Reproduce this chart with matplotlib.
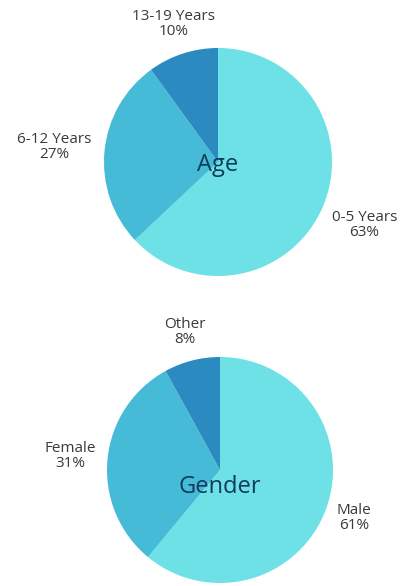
import numpy as np
import matplotlib.pyplot as plt

plt.rcParams['font.family'] = ['Open Sans', 'DejaVu Sans']

# Datos
age_labels = ['0-5 Years', '6-12 Years', '13-19 Years']
age_values = [63, 27, 10]
gender_labels = ['Male', 'Female', 'Other']
gender_values = [61, 31, 8]

colors = ['#6de1e6', '#46bbd7', '#2b8ac0']
label_color = '#3a3a3a'
title_color = '#0f3b58'

W, H = 413, 586
fig = plt.figure(figsize=(W / 100, H / 100), dpi=100)


def draw_pie(cx, cy, r, values, labels, title, dists, title_dy):
    # ejes en pixeles, centro arriba-abajo
    ax = fig.add_axes([(cx - r) / W, (H - cy - r) / H, 2 * r / W, 2 * r / H])
    wedges, _ = ax.pie(values, colors=colors, startangle=90, counterclock=False,
                       radius=1, wedgeprops=dict(linewidth=0))
    for w, lab, val, d in zip(wedges, labels, values, dists):
        ang = np.deg2rad((w.theta1 + w.theta2) / 2)
        ax.text(d * np.cos(ang), d * np.sin(ang), f'{lab}\n{val}%',
                ha='center', va='center', fontsize=11, color=label_color,
                linespacing=1.0)
    ax.text(0, title_dy, title, ha='center', va='center', fontsize=17,
            color=title_color)
    ax.set_xlim(-1, 1)
    ax.set_ylim(-1, 1)
    ax.axis('off')


draw_pie(218, 162, 114, age_values, age_labels, 'Age', [1.40, 1.44, 1.27], -0.03)
draw_pie(220, 470, 113, gender_values, gender_labels, 'Gender', [1.26, 1.33, 1.26], -0.15)

fig.savefig('out.png', dpi=100)
